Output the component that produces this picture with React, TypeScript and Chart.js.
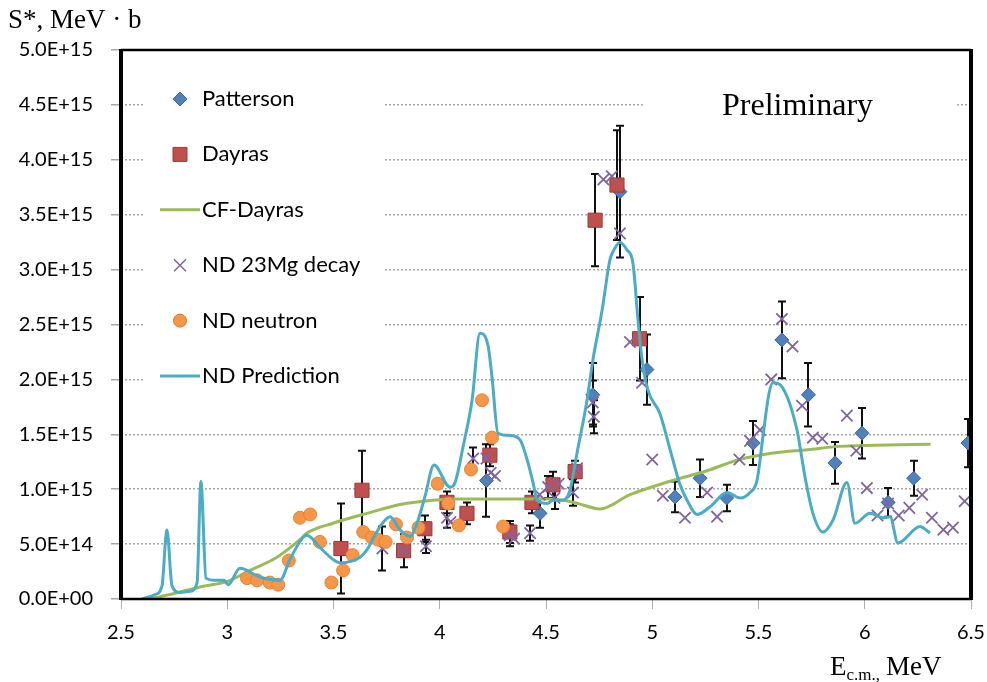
import React, { useEffect, useRef } from "react";
import { Chart, registerables } from "chart.js";

Chart.register(...registerables);

// ---------- Data (S* in units of 1E+15 MeV·b, E in MeV) ----------
const predE = [2.599, 2.66, 2.693, 2.716, 2.74, 2.778, 2.825, 2.858, 2.876, 2.9, 2.942, 2.985, 3.004, 3.06, 3.154, 3.248, 3.295, 3.352, 3.375, 3.436, 3.498, 3.53, 3.625, 3.658, 3.719, 3.766, 3.813, 3.86, 3.893, 3.93, 3.973, 4.048, 4.072, 4.109, 4.152, 4.189, 4.227, 4.246, 4.274, 4.331, 4.378, 4.411, 4.439, 4.458, 4.505, 4.533, 4.58, 4.613, 4.646, 4.693, 4.721, 4.764, 4.801, 4.82, 4.848, 4.881, 4.909, 4.933, 4.952, 4.98, 5.036, 5.084, 5.131, 5.164, 5.211, 5.272, 5.352, 5.414, 5.46, 5.493, 5.521, 5.549, 5.568, 5.615, 5.681, 5.72, 5.756, 5.803, 5.851, 5.916, 5.954, 6.025, 6.086, 6.119, 6.156, 6.26, 6.307];
const predS = [0.0, 0.04, 0.12, 0.63, 0.12, 0.06, 0.07, 0.15, 1.07, 0.19, 0.17, 0.17, 0.13, 0.28, 0.2, 0.17, 0.36, 0.55, 0.58, 0.47, 0.36, 0.33, 0.38, 0.45, 0.66, 0.75, 0.63, 0.57, 0.69, 0.93, 1.22, 1.02, 1.06, 1.38, 1.81, 2.42, 2.31, 2.02, 1.51, 1.49, 1.45, 1.27, 1.06, 0.9, 0.87, 0.9, 0.9, 0.99, 1.33, 1.81, 2.18, 2.63, 3.09, 3.18, 3.25, 3.18, 3.06, 2.54, 2.18, 1.9, 1.69, 1.36, 1.04, 0.9, 0.77, 0.84, 0.97, 0.92, 0.97, 1.08, 1.48, 1.87, 1.97, 1.92, 1.54, 1.1, 0.78, 0.61, 0.72, 1.06, 0.69, 0.78, 0.74, 0.75, 0.51, 0.66, 0.6];

const cfE = [2.636, 2.75, 2.872, 3.0, 3.107, 3.234, 3.342, 3.375, 3.498, 3.658, 3.813, 3.968, 4.1, 4.3, 4.5, 4.58, 4.65, 4.754, 4.895, 5.08, 5.26, 5.41, 5.57, 5.73, 5.88, 6.05, 6.31];
const cfS = [0.0, 0.05, 0.11, 0.16, 0.26, 0.38, 0.54, 0.6, 0.69, 0.78, 0.86, 0.9, 0.91, 0.91, 0.91, 0.9, 0.87, 0.82, 0.95, 1.07, 1.17, 1.27, 1.33, 1.36, 1.39, 1.4, 1.41];

const pattersonE = [4.22, 4.472, 4.72, 4.848, 4.975, 5.107, 5.225, 5.35, 5.475, 5.61, 5.735, 5.86, 5.987, 6.11, 6.23, 6.486];
const pattersonS = [1.08, 0.78, 1.86, 3.71, 2.09, 0.93, 1.1, 0.92, 1.42, 2.36, 1.86, 1.24, 1.51, 0.88, 1.1, 1.42];
const pattersonErr = [0.33, 0.13, 0.29, 0.6, 0.32, 0.14, 0.17, 0.12, 0.2, 0.35, 0.29, 0.19, 0.23, 0.13, 0.16, 0.22];

const dayrasE = [3.535, 3.634, 3.83, 3.93, 4.034, 4.128, 4.236, 4.33, 4.434, 4.533, 4.637, 4.731, 4.834, 4.94];
const dayrasS = [0.46, 0.99, 0.44, 0.64, 0.88, 0.78, 1.31, 0.61, 0.88, 1.04, 1.16, 3.45, 3.77, 2.37];
const dayrasErr = [0.41, 0.36, 0.15, 0.12, 0.1, 0.1, 0.1, 0.1, 0.1, 0.12, 0.1, 0.42, 0.5, 0.38];

const mgE = [3.73, 3.83, 3.935, 4.034, 4.05, 4.157, 4.22, 4.24, 4.26, 4.33, 4.35, 4.425, 4.47, 4.51, 4.54, 4.56, 4.627, 4.646, 4.72, 4.725, 4.77, 4.81, 4.848, 4.895, 4.952, 5.0, 5.05, 5.154, 5.258, 5.305, 5.41, 5.46, 5.507, 5.56, 5.61, 5.66, 5.705, 5.756, 5.8, 5.916, 5.96, 6.01, 6.06, 6.11, 6.16, 6.21, 6.27, 6.316, 6.37, 6.415, 6.47];
const mgS = [0.46, 0.44, 0.48, 0.74, 0.7, 1.28, 1.28, 1.15, 1.12, 0.58, 0.55, 0.6, 0.95, 1.02, 0.92, 1.05, 0.97, 1.19, 1.79, 1.66, 3.82, 3.85, 3.33, 2.34, 1.97, 1.27, 0.94, 0.74, 0.97, 0.75, 1.27, 1.44, 1.54, 2.0, 2.55, 2.3, 1.76, 1.47, 1.46, 1.67, 1.35, 1.01, 0.76, 0.87, 0.76, 0.83, 0.95, 0.74, 0.63, 0.65, 0.89];
const mgErr = [0.2, 0, 0.06, 0.09, 0, 0.1, 0, 0, 0, 0.1, 0, 0.07, 0, 0.1, 0.1, 0, 0.12, 0, 0.2, 0.15, 0, 0, 0, 0, 0, 0, 0, 0, 0, 0, 0, 0, 0, 0, 0, 0, 0, 0, 0, 0, 0, 0, 0, 0, 0, 0, 0, 0, 0, 0, 0];

const neutronE = [3.093, 3.14, 3.2, 3.24, 3.29, 3.342, 3.39, 3.436, 3.49, 3.545, 3.59, 3.64, 3.68, 3.71, 3.745, 3.794, 3.846, 3.9, 3.99, 4.04, 4.09, 4.147, 4.199, 4.246, 4.298];
const neutronS = [0.19, 0.17, 0.15, 0.13, 0.35, 0.74, 0.77, 0.52, 0.15, 0.26, 0.4, 0.61, 0.56, 0.54, 0.52, 0.68, 0.56, 0.65, 1.05, 0.87, 0.67, 1.18, 1.81, 1.47, 0.66];

const legendLabels = ["Patterson", "Dayras", "CF-Dayras", "ND 23Mg decay", "ND neutron", "ND Prediction"];

// ---------- Styling ----------
const C_PAT = "#4F81BD";
const C_DAY = "#C0504D";
const C_CF = "#9BBB59";
const C_MG = "#8064A2";
const C_NEU = "#F79646";
const C_PRED = "#4BACC6";
const TICK_FONT = "Lato";

const toPoints = (xs: number[], ys: number[]) => xs.map((x, i) => ({ x, y: ys[i] }));

const fmtSci = (v: number) => {
  if (Math.abs(v) < 1e-9) return "0.0E+00";
  const val = v * 1e15;
  const exp = Math.floor(Math.log10(val) + 1e-9);
  const mant = val / Math.pow(10, exp);
  return mant.toFixed(1) + "E+" + String(exp).padStart(2, "0");
};

function drawMarker(ctx: CanvasRenderingContext2D, kind: string, x: number, y: number, color: string, border: string) {
  ctx.save();
  ctx.fillStyle = color;
  ctx.strokeStyle = border;
  ctx.lineWidth = 1;
  ctx.beginPath();
  if (kind === "rectRot") {
    const r = 7;
    ctx.moveTo(x - r, y); ctx.lineTo(x, y - r); ctx.lineTo(x + r, y); ctx.lineTo(x, y + r); ctx.closePath();
    ctx.fill(); ctx.stroke();
  } else if (kind === "rect") {
    const s = 7;
    ctx.rect(x - s, y - s, 2 * s, 2 * s);
    ctx.fill(); ctx.stroke();
  } else if (kind === "circle") {
    ctx.arc(x, y, 6.5, 0, Math.PI * 2);
    ctx.fill(); ctx.stroke();
  } else if (kind === "crossRot") {
    const r = 6;
    ctx.strokeStyle = color;
    ctx.lineWidth = 1.5;
    ctx.moveTo(x - r, y - r); ctx.lineTo(x + r, y + r);
    ctx.moveTo(x + r, y - r); ctx.lineTo(x - r, y + r);
    ctx.stroke();
  } else if (kind === "line") {
    ctx.strokeStyle = color;
    ctx.lineWidth = 3;
    ctx.moveTo(x - 20, y); ctx.lineTo(x + 20, y);
    ctx.stroke();
  }
  ctx.restore();
}

const decorPlugin = {
  id: "decor",
  beforeDatasetsDraw(chart: any) {
    const { ctx } = chart;
    const xS = chart.scales.x;
    const yS = chart.scales.y;
    ctx.save();
    ctx.strokeStyle = "#111";
    ctx.lineWidth = 2;
    chart.data.datasets.forEach((ds: any) => {
      if (!ds.errors) return;
      ds.data.forEach((p: any, i: number) => {
        const e = ds.errors[i];
        if (!e) return;
        const px = Math.round(xS.getPixelForValue(p.x));
        const y1 = yS.getPixelForValue(p.y + e);
        const y2 = yS.getPixelForValue(p.y - e);
        ctx.beginPath();
        ctx.moveTo(px, y1); ctx.lineTo(px, y2);
        ctx.moveTo(px - 4, y1); ctx.lineTo(px + 4, y1);
        ctx.moveTo(px - 4, y2); ctx.lineTo(px + 4, y2);
        ctx.stroke();
      });
    });
    ctx.restore();
  },
  afterDraw(chart: any) {
    const { ctx, chartArea: a } = chart;
    ctx.save();
    // frame
    ctx.strokeStyle = "#000";
    ctx.lineWidth = 2.5;
    ctx.beginPath();
    ctx.moveTo(a.left, a.top); ctx.lineTo(a.right, a.top);
    ctx.moveTo(a.left, a.bottom); ctx.lineTo(a.right, a.bottom);
    ctx.stroke();
    ctx.lineWidth = 4;
    ctx.beginPath();
    ctx.moveTo(a.left, a.top - 1); ctx.lineTo(a.left, a.bottom + 1);
    ctx.moveTo(a.right, a.top - 1); ctx.lineTo(a.right, a.bottom + 1);
    ctx.stroke();

    // legend box
    ctx.fillStyle = "#fff";
    ctx.fillRect(145, 62, 238, 345);
    const kinds = ["rectRot", "rect", "line", "crossRot", "circle", "line"];
    const colors = [C_PAT, C_DAY, C_CF, C_MG, C_NEU, C_PRED];
    const borders = ["#3A66A0", "#9A3A37", C_CF, C_MG, "#D8792E", C_PRED];
    ctx.font = `22px ${TICK_FONT}`;
    ctx.textBaseline = "middle";
    ctx.textAlign = "left";
    legendLabels.forEach((lab, i) => {
      const y = 99 + i * 55.4;
      drawMarker(ctx, kinds[i], 180, y, colors[i], borders[i]);
      ctx.fillStyle = "#000";
      ctx.fillText(lab, 202, y);
    });

    // Preliminary box
    ctx.fillStyle = "#fff";
    ctx.fillRect(645, 80, 310, 50);
    ctx.fillStyle = "#000";
    ctx.font = `32px "Liberation Serif", "Times New Roman", serif`;
    ctx.textBaseline = "alphabetic";
    ctx.fillText("Preliminary", 722, 115);

    // y title
    ctx.font = `27px "Liberation Serif", "Times New Roman", serif`;
    ctx.fillText("S*, MeV \u00B7 b", 8, 28);

    // x title
    let x = 830;
    ctx.fillText("E", x, 675);
    x += ctx.measureText("E").width;
    ctx.font = `17px "Liberation Serif", "Times New Roman", serif`;
    ctx.fillText("c.m.,", x, 680);
    x += ctx.measureText("c.m.,").width + 6;
    ctx.font = `27px "Liberation Serif", "Times New Roman", serif`;
    ctx.fillText("MeV", x, 675);
    ctx.restore();
  },
};

export default function App() {
  const ref = useRef<HTMLCanvasElement | null>(null);

  useEffect(() => {
    if (!ref.current) return;
    const chart = new Chart(ref.current, {
      type: "scatter",
      data: {
        datasets: [
          {
            label: "ND Prediction",
            data: toPoints(predE, predS),
            showLine: true,
            borderColor: C_PRED,
            borderWidth: 3,
            pointRadius: 0,
            tension: 0.4,
            cubicInterpolationMode: "monotone",
            order: 1,
          } as any,
          {
            label: "ND neutron",
            data: toPoints(neutronE, neutronS),
            pointStyle: "circle",
            pointRadius: 6.5,
            backgroundColor: C_NEU,
            borderColor: "#E8823A",
            borderWidth: 1,
            order: 2,
          },
          {
            label: "ND 23Mg decay",
            data: toPoints(mgE, mgS),
            errors: mgErr,
            pointStyle: "crossRot",
            pointRadius: 8,
            borderColor: C_MG,
            backgroundColor: C_MG,
            borderWidth: 1.8,
            order: 3,
          } as any,
          {
            label: "CF-Dayras",
            data: toPoints(cfE, cfS),
            showLine: true,
            borderColor: C_CF,
            borderWidth: 3,
            pointRadius: 0,
            tension: 0.4,
            cubicInterpolationMode: "monotone",
            order: 4,
          } as any,
          {
            label: "Dayras",
            data: toPoints(dayrasE, dayrasS),
            errors: dayrasErr,
            pointStyle: "rect",
            pointRadius: 10,
            backgroundColor: C_DAY,
            borderColor: "#9A3A37",
            borderWidth: 1,
            order: 5,
          } as any,
          {
            label: "Patterson",
            data: toPoints(pattersonE, pattersonS),
            errors: pattersonErr,
            pointStyle: "rectRot",
            pointRadius: 7,
            backgroundColor: C_PAT,
            borderColor: "#3A66A0",
            borderWidth: 1,
            order: 6,
          } as any,
        ],
      },
      options: {
        responsive: false,
        animation: false,
        devicePixelRatio: 1,
        layout: { padding: { left: 0, top: 50, right: 16, bottom: 0 } },
        plugins: {
          legend: { display: false },
          tooltip: { enabled: false },
        },
        scales: {
          x: {
            type: "linear",
            min: 2.5,
            max: 6.5,
            afterFit: (s: any) => { s.height = 83; s.paddingRight = 0; s.paddingLeft = 0; },
            ticks: {
              stepSize: 0.5,
              color: "#000",
              padding: 12,
              font: { family: TICK_FONT, size: 20 },
              callback: (v: any) => String(Number(Number(v).toFixed(1))),
            },
            grid: { drawOnChartArea: false, drawTicks: true, tickLength: 10, color: "#b0b0b0" },
            border: { display: false },
          },
          y: {
            type: "linear",
            min: 0,
            max: 5,
            afterFit: (s: any) => { s.width = 121; s.paddingTop = 0; s.paddingBottom = 0; },
            ticks: {
              stepSize: 0.5,
              color: "#000",
              padding: 18,
              font: { family: TICK_FONT, size: 20 },
              callback: (v: any) => fmtSci(Number(v)),
            },
            grid: { color: "#a8a8a8", lineWidth: 1.5, tickLength: 10 },
            border: { display: false, dash: [2, 2] },
          },
        },
      },
      plugins: [decorPlugin],
    });
    return () => chart.destroy();
  }, []);

  return (
    <div style={{ position: "absolute", left: 0, top: 0, width: 987, height: 682, background: "#fff" }}>
      <canvas ref={ref} width={987} height={682} style={{ display: "block" }} />
    </div>
  );
}
